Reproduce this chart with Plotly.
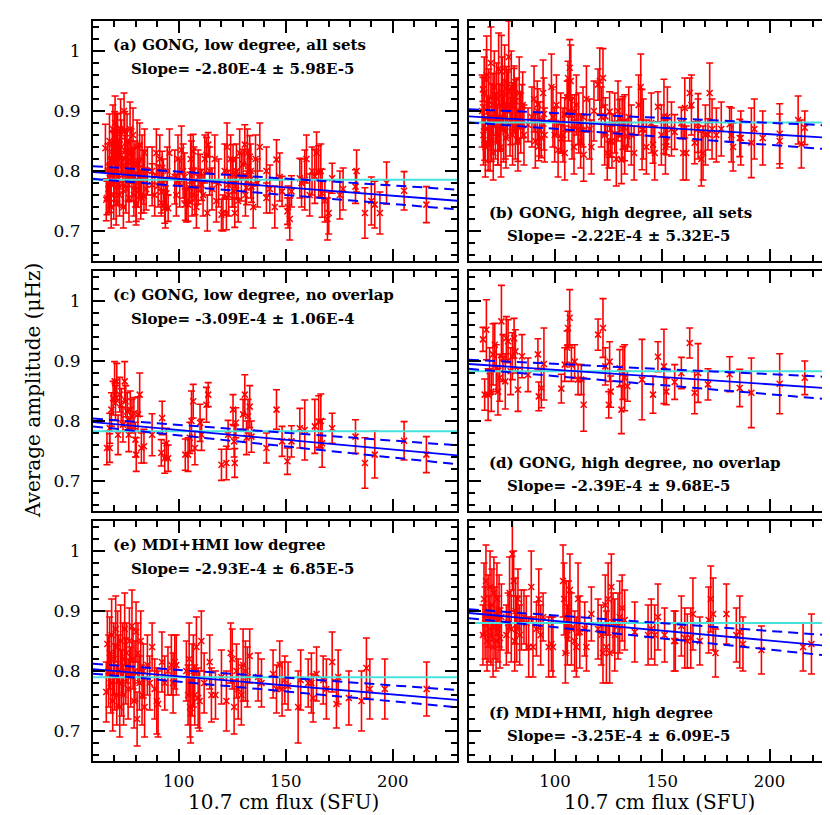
import plotly.graph_objects as go
from plotly.subplots import make_subplots

# ---- (c) GONG, low degree, no overlap ----
flux_c = [66.5, 67.8, 67.8, 68.6, 69.4, 70.1, 70.5, 71.1, 71.7, 72.5,
          73.2, 74.0, 74.8, 75.3, 76.0, 76.7, 77.4, 78.2, 79.1, 79.8,
          80.2, 81.0, 81.8, 82.6, 83.8, 87.6, 91.9, 92.3, 93.5, 94.3,
          95.1, 103.1, 104.4, 105.2, 106.0, 106.8, 107.6, 110.0, 110.7, 113.0,
          113.8, 120.0, 122.3, 123.1, 125.4, 125.9, 126.2, 126.7, 130.1, 130.9,
          131.7, 132.4, 133.2, 134.0, 141.0, 145.7, 148.3, 150.8, 152.7, 156.6,
          158.9, 163.6, 165.4, 166.4, 167.0, 171.7, 182.6, 187.0, 191.6, 205.3,
          215.7]
amp_c = [0.755, 0.755, 0.788, 0.819, 0.838, 0.866, 0.830, 0.866, 0.777, 0.844,
         0.827, 0.794, 0.866, 0.833, 0.816, 0.777, 0.819, 0.808, 0.813, 0.769,
         0.744, 0.811, 0.844, 0.755, 0.758, 0.777, 0.747, 0.805, 0.738, 0.763,
         0.738, 0.744, 0.744, 0.772, 0.800, 0.833, 0.755, 0.797, 0.777, 0.827,
         0.844, 0.727, 0.730, 0.777, 0.819, 0.766, 0.730, 0.797, 0.811, 0.844,
         0.772, 0.808, 0.824, 0.774, 0.755, 0.819, 0.766, 0.733, 0.766, 0.788,
         0.785, 0.791, 0.799, 0.800, 0.763, 0.788, 0.774, 0.730, 0.744, 0.767,
         0.744]
err_c = [0.028, 0.024, 0.025, 0.028, 0.028, 0.033, 0.029, 0.030, 0.033, 0.029,
         0.027, 0.029, 0.033, 0.026, 0.031, 0.028, 0.031, 0.028, 0.026, 0.029,
         0.028, 0.029, 0.036, 0.025, 0.028, 0.035, 0.022, 0.028, 0.025, 0.025,
         0.022, 0.026, 0.028, 0.026, 0.050, 0.028, 0.028, 0.031, 0.026, 0.029,
         0.020, 0.026, 0.028, 0.024, 0.025, 0.026, 0.024, 0.025, 0.025, 0.033,
         0.028, 0.028, 0.035, 0.026, 0.025, 0.033, 0.025, 0.022, 0.026, 0.033,
         0.050, 0.045, 0.043, 0.045, 0.040, 0.025, 0.028, 0.042, 0.039, 0.032,
         0.030]

# ---- (a) GONG, low degree, all sets = (c) plus the overlapping sets ----
flux_a_extra = [65.8, 66.2, 66.9, 67.2, 67.7, 68.2, 68.5, 69.0, 69.3, 69.7,
                70.0, 70.3, 70.8, 71.1, 71.5, 72.0, 72.4, 72.9, 73.3, 73.8,
                74.2, 74.5, 75.0, 75.4, 75.9, 76.4, 76.8, 77.3, 77.8, 78.2,
                78.7, 79.1, 79.6, 80.1, 80.6, 81.1, 81.7, 82.3, 82.9, 83.5,
                84.1, 84.8, 85.4,
                87.6, 88.8, 89.6, 90.4, 91.2, 91.9, 92.9, 93.8, 94.7, 95.7,
                98.2, 98.9, 99.7, 100.5, 101.3, 102.1, 102.8, 103.6, 105.6, 106.3,
                107.2, 108.3, 109.1, 111.4, 112.2, 113.4, 114.5, 115.6, 116.9, 117.6,
                118.7, 120.7, 121.5, 122.6, 123.4, 124.3, 125.0, 127.0, 127.8, 128.5,
                129.3, 131.2, 132.1, 133.7, 134.8, 135.9, 136.8, 137.9,
                141.0, 142.6, 144.9, 147.2, 151.1, 151.9, 157.4, 159.7, 161.2, 162.3,
                164.4, 168.3, 169.5, 170.1, 175.3, 176.8, 183.1, 190.0, 194.0, 197.1]
amp_a_extra = [0.838, 0.752, 0.800, 0.770, 0.850, 0.780, 0.740, 0.820, 0.870, 0.760,
               0.800, 0.880, 0.745, 0.790, 0.850, 0.810, 0.760, 0.870, 0.840, 0.780,
               0.740, 0.900, 0.820, 0.770, 0.850, 0.800, 0.755, 0.870, 0.830, 0.790,
               0.860, 0.760, 0.810, 0.745, 0.840, 0.780, 0.800, 0.760, 0.820, 0.790,
               0.830, 0.770, 0.800,
               0.80, 0.76, 0.83, 0.775, 0.82, 0.765, 0.78, 0.74, 0.80, 0.83,
               0.79, 0.76, 0.82, 0.78, 0.835, 0.80, 0.79, 0.75, 0.82, 0.76,
               0.80, 0.74, 0.79, 0.76, 0.82, 0.73, 0.80, 0.77, 0.82, 0.75,
               0.78, 0.73, 0.80, 0.84, 0.76, 0.82, 0.78, 0.80, 0.75, 0.83,
               0.79, 0.76, 0.83, 0.80, 0.74, 0.82, 0.78, 0.84,
               0.80, 0.77, 0.74, 0.79, 0.74, 0.72, 0.78, 0.82, 0.76, 0.80,
               0.83, 0.75, 0.72, 0.73, 0.76, 0.77, 0.80, 0.75, 0.73, 0.78]
err_a_extra = [0.040, 0.035, 0.045, 0.040, 0.045, 0.040, 0.035, 0.045, 0.040, 0.040,
               0.050, 0.045, 0.035, 0.040, 0.045, 0.040, 0.035, 0.050, 0.045, 0.040,
               0.035, 0.030, 0.045, 0.040, 0.045, 0.050, 0.040, 0.045, 0.040, 0.040,
               0.045, 0.035, 0.040, 0.035, 0.045, 0.040, 0.045, 0.040, 0.040, 0.045,
               0.040, 0.035, 0.040,
               0.040, 0.035, 0.040, 0.035, 0.040, 0.035, 0.040, 0.035, 0.040, 0.040,
               0.045, 0.035, 0.040, 0.040, 0.040, 0.045, 0.040, 0.035, 0.040, 0.035,
               0.040, 0.035, 0.045, 0.035, 0.040, 0.030, 0.040, 0.035, 0.040, 0.035,
               0.040, 0.030, 0.045, 0.040, 0.035, 0.040, 0.040, 0.045, 0.035, 0.040,
               0.040, 0.035, 0.040, 0.045, 0.035, 0.040, 0.040, 0.040,
               0.040, 0.040, 0.035, 0.040, 0.035, 0.035, 0.040, 0.040, 0.035, 0.040,
               0.035, 0.035, 0.035, 0.035, 0.040, 0.035, 0.035, 0.040, 0.035, 0.035]

# ---- (d) GONG, high degree, no overlap ----
flux_d = [66.5, 67.3, 68.1, 68.9, 69.6, 70.4, 71.2, 72.0, 72.7, 73.5,
          74.3, 75.1, 75.8, 76.9, 77.4, 78.2, 79.4, 80.2, 81.0, 81.6,
          82.8, 84.7, 87.5, 92.1, 92.5, 93.7, 94.9, 103.0, 104.6, 105.7,
          106.1, 106.9, 107.7, 109.2, 110.8, 112.3, 113.4, 120.1, 122.4, 123.5,
          125.1, 125.5, 126.0, 130.2, 131.0, 131.7, 132.5, 133.8, 140.6, 145.7,
          148.0, 150.8, 151.9, 155.8, 158.9, 162.8, 165.1, 166.7, 171.3, 181.4,
          186.1, 191.5, 204.7, 216.4]
amp_d = [0.936, 0.844, 0.952, 0.844, 0.883, 0.849, 0.911, 0.927, 0.888, 0.849,
         0.872, 0.966, 0.905, 0.866, 0.938, 0.933, 0.883, 0.908, 0.938, 0.916,
         0.852, 0.908, 0.877, 0.911, 0.841, 0.855, 0.895, 0.854, 0.894, 0.922,
         0.955, 0.972, 0.894, 0.899, 0.869, 0.869, 0.827, 0.944, 0.955, 0.891,
         0.827, 0.899, 0.849, 0.888, 0.819, 0.880, 0.872, 0.858, 0.869, 0.844,
         0.907, 0.891, 0.849, 0.865, 0.880, 0.930, 0.847, 0.880, 0.861, 0.878,
         0.855, 0.847, 0.862, 0.872]
err_d = [0.020, 0.026, 0.050, 0.043, 0.039, 0.033, 0.051, 0.036, 0.039, 0.039,
         0.039, 0.060, 0.039, 0.046, 0.036, 0.036, 0.039, 0.039, 0.033, 0.036,
         0.036, 0.036, 0.028, 0.026, 0.024, 0.033, 0.060, 0.024, 0.028, 0.028,
         0.028, 0.047, 0.028, 0.028, 0.025, 0.025, 0.044, 0.026, 0.049, 0.031,
         0.022, 0.033, 0.026, 0.031, 0.040, 0.044, 0.055, 0.025, 0.067, 0.031,
         0.025, 0.062, 0.022, 0.029, 0.026, 0.025, 0.035, 0.049, 0.026, 0.029,
         0.031, 0.058, 0.050, 0.028]

# ---- (b) GONG, high degree, all sets = (d) plus the overlapping sets ----
flux_b_extra = [66.1, 66.7, 67.1, 67.6, 68.2, 68.7, 69.2, 69.8, 70.2, 70.7,
                71.3, 71.8, 72.3, 72.9, 73.4, 73.8, 74.4, 74.9, 75.5, 76.1,
                76.6, 77.2, 77.9, 78.5, 79.1, 79.7, 80.3, 81.0, 81.6, 82.2,
                82.8, 83.4, 84.1, 85.0, 85.6,
                89.3, 90.3, 90.9, 91.8, 92.9, 94.5, 95.2, 98.4, 99.1, 99.9,
                100.7, 101.5, 102.7, 103.8, 104.6, 106.4, 107.4, 108.0, 108.9, 110.0,
                111.1, 112.0, 113.1, 114.7, 116.2, 117.0, 118.2, 120.9, 121.6, 123.2,
                124.4, 126.6, 127.9, 128.6, 129.4, 131.3, 132.5, 134.4, 135.6, 136.9,
                139.0, 140.0, 141.2, 142.6, 144.9,
                146.5, 149.6, 151.5, 152.4, 154.3, 159.7, 160.5, 161.2, 163.6, 166.7,
                168.2, 169.0, 170.1, 172.1, 173.2, 175.2, 177.5, 182.2, 183.0, 186.6,
                192.9, 196.8, 204.7, 213.3, 214.8]
amp_b_extra = [0.90, 0.86, 0.93, 0.84, 0.96, 0.87, 0.91, 0.85, 0.98, 0.89,
               0.83, 0.94, 0.875, 0.92, 0.86, 0.97, 0.89, 0.84, 0.93, 0.87,
               0.95, 0.855, 0.91, 0.99, 0.88, 0.94, 0.86, 0.92, 0.87, 0.90,
               0.85, 0.93, 0.88, 0.91, 0.86,
               0.89, 0.92, 0.85, 0.90, 0.87, 0.93, 0.86, 0.94, 0.89, 0.86,
               0.91, 0.835, 0.88, 0.86, 0.83, 0.90, 0.95, 0.87, 0.84, 0.91,
               0.88, 0.85, 0.89, 0.92, 0.87, 0.84, 0.90, 0.95, 0.89, 0.86,
               0.83, 0.85, 0.88, 0.82, 0.90, 0.87, 0.84, 0.89, 0.86, 0.83,
               0.91, 0.94, 0.87, 0.84, 0.88,
               0.83, 0.86, 0.84, 0.89, 0.87, 0.83, 0.905, 0.83, 0.91, 0.87,
               0.82, 0.83, 0.86, 0.93, 0.87, 0.86, 0.87, 0.86, 0.84, 0.855,
               0.87, 0.855, 0.85, 0.885, 0.845]
err_b_extra = [0.060, 0.050, 0.060, 0.050, 0.065, 0.055, 0.060, 0.050, 0.060, 0.055,
               0.045, 0.060, 0.055, 0.060, 0.050, 0.060, 0.055, 0.050, 0.060, 0.055,
               0.060, 0.050, 0.055, 0.060, 0.055, 0.060, 0.050, 0.055, 0.050, 0.055,
               0.050, 0.060, 0.050, 0.055, 0.050,
               0.050, 0.055, 0.045, 0.050, 0.045, 0.055, 0.045, 0.055, 0.050, 0.045,
               0.050, 0.045, 0.050, 0.045, 0.045, 0.050, 0.060, 0.050, 0.045, 0.050,
               0.050, 0.045, 0.050, 0.055, 0.050, 0.045, 0.050, 0.055, 0.050, 0.050,
               0.045, 0.045, 0.050, 0.045, 0.050, 0.050, 0.045, 0.050, 0.050, 0.045,
               0.050, 0.055, 0.050, 0.045, 0.050,
               0.045, 0.050, 0.045, 0.050, 0.045, 0.045, 0.050, 0.045, 0.050, 0.050,
               0.045, 0.045, 0.050, 0.050, 0.050, 0.045, 0.045, 0.045, 0.040, 0.045,
               0.050, 0.045, 0.045, 0.040, 0.040]

# ---- (e) MDI+HMI, low degree ----
flux_e = [66.2, 66.7, 67.3, 67.8, 68.3, 68.7, 69.2, 69.7, 70.1, 70.6,
          71.1, 71.5, 72.0, 72.5, 72.9, 73.4, 73.9, 74.3, 74.8, 75.3,
          75.7, 76.4, 77.0, 77.6, 78.2, 78.7, 79.2, 79.6, 80.1, 80.6,
          81.0, 81.7, 82.3, 82.9, 83.5, 84.1, 85.4, 86.5, 87.6, 88.8,
          89.8, 90.4, 92.2, 93.5, 95.0, 96.6, 97.4, 98.2, 98.9, 103.6,
          104.4, 104.9, 105.3, 105.6, 106.3, 106.9, 107.5, 108.3, 109.1, 109.8,
          110.6, 111.9, 114.5, 115.3, 117.2, 120.0, 122.3, 124.3, 125.0, 125.9,
          127.0, 127.8, 129.3, 130.1, 131.2, 132.1, 133.2, 137.1, 138.7, 144.1,
          145.7, 147.2, 148.3, 149.6, 151.1, 155.8, 157.0, 160.5, 162.0, 162.8,
          164.4, 167.5, 169.0, 171.7, 173.7, 174.5, 179.5, 185.4, 187.7, 189.3,
          196.3, 215.8]
amp_e = [0.765, 0.845, 0.80, 0.83, 0.78, 0.86, 0.75, 0.82, 0.79, 0.87,
         0.76, 0.84, 0.80, 0.74, 0.85, 0.78, 0.82, 0.76, 0.87, 0.80,
         0.83, 0.77, 0.85, 0.79, 0.875, 0.82, 0.75, 0.80, 0.865, 0.72,
         0.83, 0.78, 0.85, 0.76, 0.80, 0.74, 0.81, 0.78, 0.84, 0.77,
         0.75, 0.745, 0.815, 0.78, 0.80, 0.81, 0.78, 0.815, 0.81, 0.80,
         0.76, 0.82, 0.74, 0.73, 0.785, 0.80, 0.76, 0.84, 0.755, 0.75,
         0.85, 0.78, 0.815, 0.76, 0.76, 0.79, 0.75, 0.83, 0.82, 0.74,
         0.80, 0.77, 0.76, 0.81, 0.80, 0.79, 0.825, 0.79, 0.78, 0.795,
         0.77, 0.81, 0.77, 0.785, 0.775, 0.74, 0.785, 0.78, 0.78, 0.755,
         0.795, 0.785, 0.77, 0.815, 0.745, 0.79, 0.755, 0.75, 0.805, 0.77,
         0.77, 0.77]
err_e = [0.050, 0.055, 0.060, 0.060, 0.050, 0.060, 0.050, 0.060, 0.055, 0.055,
         0.050, 0.060, 0.060, 0.050, 0.060, 0.055, 0.060, 0.050, 0.060, 0.055,
         0.050, 0.050, 0.055, 0.050, 0.060, 0.050, 0.045, 0.050, 0.050, 0.045,
         0.050, 0.045, 0.050, 0.050, 0.045, 0.050, 0.050, 0.045, 0.040, 0.050,
         0.055, 0.055, 0.050, 0.045, 0.040, 0.050, 0.050, 0.045, 0.050, 0.050,
         0.050, 0.060, 0.050, 0.050, 0.060, 0.060, 0.050, 0.050, 0.050, 0.050,
         0.050, 0.050, 0.045, 0.045, 0.040, 0.045, 0.050, 0.050, 0.050, 0.045,
         0.045, 0.050, 0.050, 0.060, 0.050, 0.050, 0.045, 0.040, 0.040, 0.040,
         0.040, 0.040, 0.045, 0.040, 0.040, 0.060, 0.050, 0.040, 0.050, 0.040,
         0.045, 0.040, 0.050, 0.050, 0.040, 0.045, 0.045, 0.050, 0.050, 0.050,
         0.050, 0.045]

# ---- (f) MDI+HMI, high degree ----
flux_f = [66.5, 67.0, 67.5, 67.9, 68.4, 68.9, 69.3, 69.8, 70.2, 70.7,
          71.2, 71.6, 72.1, 72.6, 73.0, 73.5, 74.0, 74.4, 75.1, 77.4,
          78.2, 78.9, 79.7, 80.2, 80.8, 81.3, 81.7, 82.2, 82.8, 83.6,
          84.4, 85.6, 86.7, 87.8, 89.0, 89.8, 91.4, 92.5, 93.4, 94.5,
          97.1, 98.4, 99.1, 103.8, 104.3, 104.9, 105.3, 105.8, 106.4, 107.0,
          107.7, 109.2, 110.0, 110.8, 111.6, 113.9, 114.7, 117.0, 120.1, 121.6,
          122.4, 123.5, 124.0, 124.8, 125.5, 126.3, 127.1, 127.9, 129.4, 130.2,
          131.3, 132.5, 137.2, 143.4, 144.9, 146.5, 148.0, 151.1, 155.5, 156.1,
          158.9, 160.5, 161.7, 163.3, 164.3, 167.5, 171.6, 172.6, 173.7, 174.8,
          179.9, 184.5, 186.1, 187.6, 196.2, 215.6, 219.5]
amp_f = [0.86, 0.92, 0.88, 0.95, 0.85, 0.90, 0.87, 0.94, 0.86, 0.91,
         0.84, 0.93, 0.88, 0.85, 0.92, 0.87, 0.90, 0.855, 0.89, 0.86,
         0.88, 0.93, 0.87, 0.995, 0.95, 0.85, 0.90, 0.87, 0.92, 0.86,
         0.885, 0.89, 0.88, 0.84, 0.94, 0.84, 0.87, 0.92, 0.86, 0.89,
         0.84, 0.845, 0.84, 0.95, 0.92, 0.83, 0.89, 0.86, 0.90, 0.935,
         0.87, 0.85, 0.84, 0.92, 0.865, 0.87, 0.84, 0.895, 0.87, 0.86,
         0.83, 0.91, 0.84, 0.92, 0.83, 0.94, 0.88, 0.86, 0.875, 0.89,
         0.905, 0.885, 0.865, 0.86, 0.87, 0.86, 0.89, 0.86, 0.85, 0.85,
         0.875, 0.855, 0.85, 0.855, 0.895, 0.85, 0.885, 0.92, 0.895, 0.83,
         0.895, 0.86, 0.865, 0.845, 0.835, 0.84, 0.845]
err_f = [0.050, 0.060, 0.060, 0.060, 0.050, 0.060, 0.055, 0.060, 0.050, 0.060,
         0.050, 0.060, 0.060, 0.050, 0.060, 0.055, 0.060, 0.050, 0.055, 0.050,
         0.050, 0.060, 0.055, 0.060, 0.050, 0.050, 0.055, 0.055, 0.050, 0.050,
         0.050, 0.045, 0.045, 0.050, 0.060, 0.050, 0.045, 0.050, 0.050, 0.040,
         0.050, 0.045, 0.050, 0.060, 0.060, 0.050, 0.060, 0.050, 0.050, 0.060,
         0.060, 0.050, 0.050, 0.060, 0.060, 0.045, 0.040, 0.045, 0.050, 0.050,
         0.050, 0.050, 0.060, 0.060, 0.050, 0.055, 0.050, 0.060, 0.055, 0.060,
         0.055, 0.050, 0.050, 0.050, 0.050, 0.050, 0.055, 0.045, 0.050, 0.050,
         0.050, 0.050, 0.045, 0.050, 0.060, 0.040, 0.055, 0.055, 0.060, 0.040,
         0.050, 0.045, 0.060, 0.045, 0.040, 0.040, 0.050]

flux_a = flux_c + flux_a_extra
amp_a = amp_c + amp_a_extra
err_a = err_c + err_a_extra
flux_b = flux_d + flux_b_extra
amp_b = amp_d + amp_b_extra
err_b = err_d + err_b_extra

# fit lines, evaluated at the two ends of the flux axis
fit_x = [60, 230]
fit_lo_end = [0.798, 0.891, 0.798, 0.895, 0.803, 0.8967]
fit_hi_end = [0.7504, 0.855, 0.7426, 0.854, 0.752, 0.841]
upper_lo_end = [0.808, 0.903, 0.804, 0.902, 0.812, 0.903]
upper_hi_end = [0.769, 0.8755, 0.7595, 0.873, 0.7683, 0.859]
lower_lo_end = [0.787, 0.881, 0.791, 0.887, 0.7955, 0.888]
lower_hi_end = [0.736, 0.8355, 0.728, 0.8355, 0.7396, 0.8245]
mean_amp = [0.7855, 0.881, 0.783, 0.883, 0.7895, 0.880]

labels = ["(a) GONG, low degree, all sets", "(b) GONG, high degree, all sets",
          "(c) GONG, low degree, no overlap", "(d) GONG, high degree, no overlap",
          "(e) MDI+HMI low degree", "(f) MDI+HMI, high degree"]
slopes = ["Slope= -2.80E-4 ± 5.98E-5", "Slope= -2.22E-4 ± 5.32E-5",
          "Slope= -3.09E-4 ± 1.06E-4", "Slope= -2.39E-4 ± 9.68E-5",
          "Slope= -2.93E-4 ± 6.85E-5", "Slope= -3.25E-4 ± 6.09E-5"]

series = [(flux_a, amp_a, err_a), (flux_b, amp_b, err_b),
          (flux_c, amp_c, err_c), (flux_d, amp_d, err_d),
          (flux_e, amp_e, err_e), (flux_f, amp_f, err_f)]
for fx, am, er in series:
    assert len(fx) == len(am) == len(er)

W, H = 830, 815
col_px = [(85, 449), (461, 826)]
row_px = [(13, 253), (263, 503), (513, 753)]

fig = make_subplots(rows=3, cols=2)
FONT = "DejaVu Serif"
RED = "#ff0000"
BLUE = "#0000ff"
CYAN = "#46e2dc"

for i, (fx, am, er) in enumerate(series):
    r, c = i // 2 + 1, i % 2 + 1
    fig.add_trace(go.Scatter(
        x=fx, y=am, mode="markers",
        marker=dict(symbol="x-thin-open", size=6, color=RED,
                    line=dict(color=RED, width=1.5)),
        error_y=dict(type="data", array=er, color=RED, thickness=1.6, width=3.5),
        showlegend=False, hoverinfo="skip"), row=r, col=c)
    fig.add_trace(go.Scatter(
        x=fit_x, y=[mean_amp[i], mean_amp[i]], mode="lines",
        line=dict(color=CYAN, width=2), showlegend=False), row=r, col=c)
    fig.add_trace(go.Scatter(
        x=fit_x, y=[upper_lo_end[i], upper_hi_end[i]], mode="lines",
        line=dict(color=BLUE, width=2, dash="10px,6px"), showlegend=False), row=r, col=c)
    fig.add_trace(go.Scatter(
        x=fit_x, y=[lower_lo_end[i], lower_hi_end[i]], mode="lines",
        line=dict(color=BLUE, width=2, dash="10px,6px"), showlegend=False), row=r, col=c)
    fig.add_trace(go.Scatter(
        x=fit_x, y=[fit_lo_end[i], fit_hi_end[i]], mode="lines",
        line=dict(color=BLUE, width=1.8), showlegend=False), row=r, col=c)

    x0, x1 = col_px[c - 1]
    y0, y1 = row_px[r - 1]
    fig.update_xaxes(
        domain=[x0 / W, x1 / W], range=[60, 230], tick0=0, dtick=50,
        ticks="inside", ticklen=12, tickwidth=1.5, tickcolor="black",
        minor=dict(dtick=10, ticks="inside", ticklen=6, tickwidth=1.5, tickcolor="black"),
        showline=True, linewidth=2, linecolor="black", mirror="ticks",
        showgrid=False, zeroline=False, showticklabels=(r == 3),
        ticklabelstandoff=4,
        tickfont=dict(family=FONT, size=16.5, color="black"), row=r, col=c)
    fig.update_yaxes(
        domain=[1 - y1 / H, 1 - y0 / H], range=[0.65, 1.05], tick0=0, dtick=0.1,
        ticks="inside", ticklen=12, tickwidth=1.5, tickcolor="black",
        minor=dict(dtick=0.02, ticks="inside", ticklen=6, tickwidth=1.5, tickcolor="black"),
        showline=True, linewidth=2, linecolor="black", mirror="ticks",
        showgrid=False, zeroline=False, showticklabels=(c == 1),
        ticklabelstandoff=7,
        tickfont=dict(family=FONT, size=17, color="black"), row=r, col=c)

    xref = "x domain" if i == 0 else "x%d domain" % (i + 1)
    yref = "y domain" if i == 0 else "y%d domain" % (i + 1)
    top = (c == 1)
    ly1, ly2 = (0.9, 0.8) if top else (0.2, 0.104)
    fig.add_annotation(text=labels[i], xref=xref, yref=yref, x=0.049, y=ly1,
                       xanchor="left", yanchor="middle", showarrow=False,
                       font=dict(family=FONT, size=15, color="black", weight="bold"))
    fig.add_annotation(text=slopes[i], xref=xref, yref=yref, x=0.099, y=ly2,
                       xanchor="left", yanchor="middle", showarrow=False,
                       font=dict(family=FONT, size=15, color="black", weight="bold"))

# axis titles
for cx in [(85 + 449) / 2 / W + 8 / W, (461 + 826) / 2 / W + 8 / W]:
    fig.add_annotation(text="10.7 cm flux (SFU)", xref="paper", yref="paper",
                       x=cx, y=1 - 794 / H, xanchor="center", yanchor="middle",
                       borderpad=0, showarrow=False,
                       font=dict(family=FONT, size=20, color="black"))
fig.add_annotation(text="Average amplitude (μHz)", xref="paper", yref="paper",
                   x=25 / W, y=1 - 383 / H, xanchor="center", yanchor="middle",
                   textangle=-90, showarrow=False,
                   font=dict(family=FONT, size=20, color="black"))

fig.update_layout(width=W, height=H, margin=dict(l=0, r=0, t=0, b=0),
                  plot_bgcolor="white", paper_bgcolor="white")
fig.write_html("out.html")
